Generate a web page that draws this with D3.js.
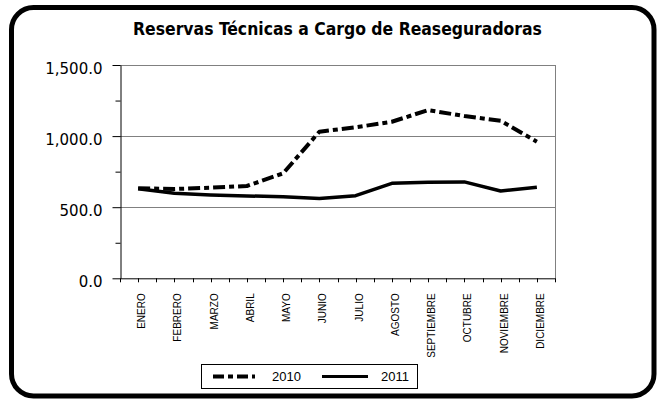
<!DOCTYPE html>
<html>
<head>
<meta charset="utf-8">
<script src="https://cdn.jsdelivr.net/npm/d3@7"></script>
<style>
  body { margin: 0; background: #fff; }
  svg { display: block; }
</style>
</head>
<body>
<div id="chart"></div>
<script>
const months = ["ENERO", "FEBRERO", "MARZO", "ABRIL", "MAYO", "JUNIO", "JULIO",
  "AGOSTO", "SEPTIEMBRE", "OCTUBRE", "NOVIEMBRE", "DICIEMBRE"];
const v2010 = [633, 628, 637, 649, 738, 1031, 1062, 1101, 1183, 1141, 1108, 961];
const v2011 = [630, 598, 586, 579, 574, 562, 581, 668, 675, 678, 614, 640];
const yTicks = [0, 500, 1000, 1500];
const yMinor = [250, 750, 1250];
const seriesNames = ["2010", "2011"];

const width = 658;
const height = 400;
const margin = {top: 65, left: 120, bottom: 121.7, right: 103};

const svg = d3.select('#chart').append('svg')
  .attr('width', width).attr('height', height);

// outer rounded frame
svg.append('rect')
  .attr('x', 11.5).attr('y', 7.5)
  .attr('width', 642.5).attr('height', 388.5)
  .attr('rx', 22).attr('ry', 22)
  .attr('fill', '#fff')
  .attr('stroke', '#000')
  .attr('stroke-width', 5);

svg.append('text')
  .attr('x', (margin.left + width - margin.right) / 2)
  .attr('y', 35)
  .attr('text-anchor', 'middle')
  .style('font-family', '"DejaVu Sans Condensed", "DejaVu Sans", sans-serif')
  .style('font-weight', 'bold')
  .style('font-size', '17.4px')
  .text('Reservas Técnicas a Cargo de Reaseguradoras');

const x = d3.scaleBand()
  .domain(months)
  .range([margin.left, width - margin.right]);

const y = d3.scaleLinear()
  .domain([0, 1500])
  .range([height - margin.bottom, margin.top]);

// gridlines + plot border (top, right)
svg.append('g')
  .selectAll('line').data(yTicks.filter(d => d > 0)).enter().append('line')
  .attr('x1', margin.left).attr('x2', width - margin.right)
  .attr('y1', d => Math.round(y(d)) + 0.5).attr('y2', d => Math.round(y(d)) + 0.5)
  .attr('stroke', '#808080');
svg.append('line')
  .attr('x1', width - margin.right + 0.5).attr('x2', width - margin.right + 0.5)
  .attr('y1', y(1500)).attr('y2', y(0))
  .attr('stroke', '#808080');

// y axis
const yAxis = g => g
  .attr('transform', `translate(${margin.left + 0.5}, 0)`)
  .call(d3.axisLeft(y).tickValues(yTicks).tickFormat(d3.format(',.1f')).tickSize(8).tickSizeOuter(0).tickPadding(10))
  .call(g => g.selectAll('text')
    .style('font-family', '"DejaVu Sans", Verdana, sans-serif')
    .style('font-size', '15px')
    .attr('dy', '0.55em'));
svg.append('g').call(yAxis);

svg.append('g')
  .attr('transform', `translate(${margin.left + 0.5}, 0)`)
  .call(d3.axisLeft(y).tickValues(yMinor).tickFormat('').tickSize(5))
  .call(g => g.select('.domain').remove());

// x axis, labels at band centres
const xAxis = g => g
  .attr('transform', `translate(0, ${y(0)})`)
  .call(d3.axisBottom(x).tickSize(0).tickSizeOuter(0))
  .call(g => g.select('.domain').attr('stroke', '#000'))
  .call(g => g.selectAll('text')
    .attr('transform', 'rotate(-90)')
    .attr('text-anchor', 'end')
    .attr('x', -15)
    .attr('y', 3.5)
    .attr('dy', '0.35em')
    .style('font-family', '"Liberation Sans", Arial, sans-serif')
    .style('font-size', '10px'));
svg.append('g').call(xAxis);

// tick marks every half category
const halfSteps = d3.range(months.length * 2 + 1);
svg.append('g')
  .selectAll('line').data(halfSteps).enter().append('line')
  .attr('x1', d => Math.round(x.range()[0] + d * x.step() / 2) + 0.5)
  .attr('x2', d => Math.round(x.range()[0] + d * x.step() / 2) + 0.5)
  .attr('y1', y(0)).attr('y2', y(0) + 4)
  .attr('stroke', '#000');

const line = d3.line()
  .x((d, i) => x(months[i]) + x.bandwidth() / 2)
  .y(d => y(d));

svg.append('path')
  .attr('d', line(v2010))
  .attr('fill', 'none')
  .attr('stroke', '#000')
  .attr('stroke-width', 4)
  .attr('stroke-linejoin', 'round')
  .attr('stroke-dasharray', '12,4,5,4');

svg.append('path')
  .attr('d', line(v2011))
  .attr('fill', 'none')
  .attr('stroke', '#000')
  .attr('stroke-width', 3.5)
  .attr('stroke-linejoin', 'round');

// legend
const legend = svg.append('g');
legend.append('rect')
  .attr('x', 201.5).attr('y', 364.5)
  .attr('width', 216).attr('height', 24)
  .attr('fill', '#fff')
  .attr('stroke', '#000');

const legendItems = [
  {name: seriesNames[0], x1: 213, x2: 255, tx: 272, dash: '11,4,5,4', w: 4},
  {name: seriesNames[1], x1: 322, x2: 368, tx: 381, dash: null, w: 3}
];
legendItems.forEach(d => {
  legend.append('line')
    .attr('x1', d.x1).attr('x2', d.x2)
    .attr('y1', 376.5).attr('y2', 376.5)
    .attr('stroke', '#000')
    .attr('stroke-width', d.w)
    .attr('stroke-dasharray', d.dash);
  legend.append('text')
    .attr('x', d.tx).attr('y', 381)
    .style('font-family', '"Liberation Sans", Arial, sans-serif')
    .style('font-size', '13px')
    .text(d.name);
});
</script>
</body>
</html>
